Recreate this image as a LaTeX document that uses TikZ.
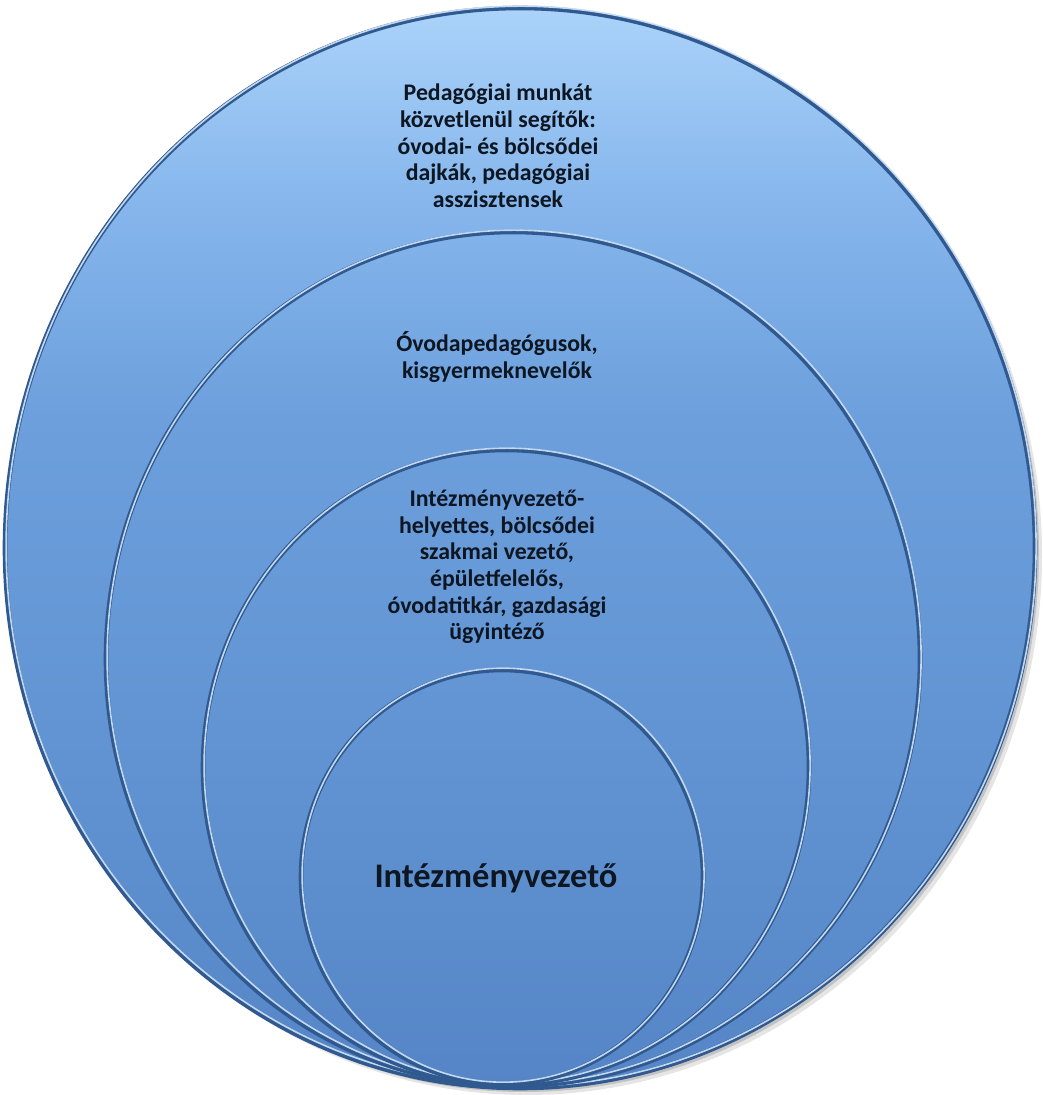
\documentclass[tikz,border=0pt]{standalone}
\usepackage{fontspec}
\setmainfont{Carlito}
\definecolor{rimdark}{HTML}{30598F}
\definecolor{rimlight}{HTML}{D2E6FB}
\definecolor{sh0}{HTML}{ABD3FA}
\definecolor{sh1}{HTML}{86B6EC}
\definecolor{sh2}{HTML}{6C9FDC}
\definecolor{sh3}{HTML}{6193D2}
\definecolor{sh4}{HTML}{5585C6}
\definecolor{txt}{HTML}{0E1622}
\pgfdeclareverticalshading{bgshade}{100bp}{color(0bp)=(sh4); color(25bp)=(sh4); color(40bp)=(sh3); color(56bp)=(sh2); color(66bp)=(sh1); color(75bp)=(sh0); color(100bp)=(sh0)}
\tikzset{
  lbl/.style={font=\bfseries\fontsize{23.8}{26.7}\selectfont, text=txt, align=center, inner sep=0pt},
  biglbl/.style={font=\bfseries\fontsize{34.5}{38}\selectfont, text=txt, inner sep=0pt},
  rimd/.style={rimdark, line width=4.6pt},
  riml/.style={rimlight, line width=1.6pt, opacity=0.9},
}
\newcommand\myring[4]{%
  \begin{scope}
    \clip (#1,#2) ellipse [x radius=#3pt, y radius=#4pt];
    \shade[shading=bgshade] (0,7) rectangle (1043,1088);
  \end{scope}
  \draw[rimd] (#1,#2) ellipse [x radius=#3pt, y radius=#4pt];
  \draw[riml] ([xshift=1.1pt,yshift=1.8pt]#1,#2) ellipse [x radius=#3pt, y radius=#4pt];
}
\begin{document}
\begin{tikzpicture}[x=1pt,y=1pt]
\useasboundingbox (0,0) rectangle (1043,1095);
% drop shadow
\fill[black, opacity=0.10] (527,540) ellipse [x radius=515pt, y radius=540pt];
\fill[black, opacity=0.15] (524,543) ellipse [x radius=515pt, y radius=540pt];
\myring{520}{547}{515}{540}
\myring{513}{436}{407}{427}
\myring{506}{327.5}{303}{317.5}
\myring{502}{218}{201}{207}
\node[lbl] (t1) at (498,949) {Pedagógiai munkát\\közvetlenül segítők:\\óvodai- és bölcsődei\\dajkák, pedagógiai\\asszisztensek};
\node[lbl] (t2) at (497,738) {Óvodapedagógusok,\\kisgyermeknevelők};
\node[lbl] (t3) at (497,528) {Intézményvezető-\\helyettes, bölcsődei\\szakmai vezető,\\épületfelelős,\\óvodatitkár, gazdasági\\ügyintéző};
\node[biglbl] (t4) at (496,217) {Intézményvezető};
\end{tikzpicture}
\end{document}
